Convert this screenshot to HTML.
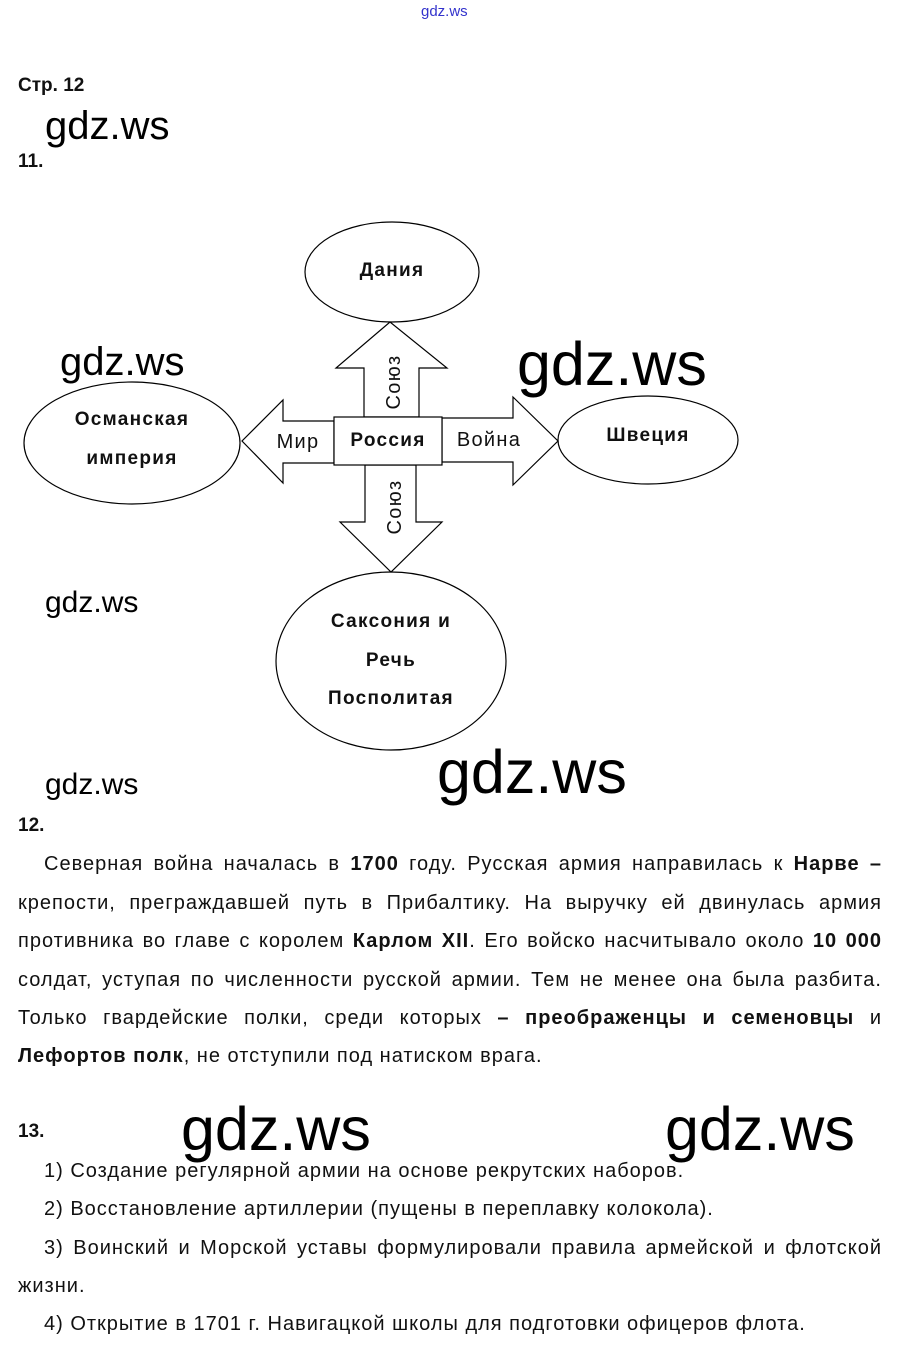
<!DOCTYPE html>
<html><head><meta charset="utf-8"><style>
body{margin:0;width:897px;height:1356px;background:#fff;position:relative;font-family:"Liberation Sans",Arial,sans-serif;color:#111;overflow:hidden}
.a{position:absolute;white-space:nowrap}
.w{position:absolute;white-space:nowrap;color:#000;line-height:1}
.j{position:absolute;left:18px;width:864px;font-size:20px;letter-spacing:1px;text-align:justify;text-align-last:justify;white-space:nowrap}
.l{position:absolute;left:18px;font-size:20px;letter-spacing:1px;white-space:nowrap}
b{font-weight:bold}
</style></head><body>
<div class="a" style="left:421px;top:3px;font-size:15px;color:#33c">gdz.ws</div>
<div class="a" style="left:18px;top:75px;font-size:19px;font-weight:bold">Стр. 12</div>
<div class="w" style="left:45px;top:106px;font-size:40px">gdz.ws</div>
<div class="a" style="left:18px;top:151px;font-size:19px;font-weight:bold">11.</div>

<svg class="a" style="left:0;top:0" width="897" height="800">
<g fill="#fff" stroke="#000" stroke-width="1.2">
<ellipse cx="392" cy="272" rx="87" ry="50"/>
<ellipse cx="132" cy="443" rx="108" ry="61"/>
<ellipse cx="648" cy="440" rx="90" ry="44"/>
<ellipse cx="391" cy="661" rx="115" ry="89"/>
<polygon points="364,417 364,368 336,368 390,322 447,368 419,368 419,417"/>
<polygon points="334,421 283,421 283,400 242,441 283,483 283,463 334,463"/>
<polygon points="442,418 513,418 513,397 558,441 513,485 513,462 442,462"/>
<polygon points="365,465 365,522 340,522 391,572 442,522 416,522 416,465"/>
<rect x="334" y="417" width="108" height="48"/>
</g>
<g font-family="Liberation Sans,Arial,sans-serif" font-size="19" fill="#111" text-anchor="middle" letter-spacing="1.3">
<text x="392" y="276" font-weight="bold">Дания</text>
<text x="132" y="425" font-weight="bold">Османская</text>
<text x="132" y="464" font-weight="bold">империя</text>
<text x="648" y="441" font-weight="bold">Швеция</text>
<text x="391" y="627" font-weight="bold">Саксония и</text>
<text x="391" y="666" font-weight="bold">Речь</text>
<text x="391" y="704" font-weight="bold">Посполитая</text>
<text x="388" y="446" font-weight="bold">Россия</text>
<text x="298" y="448" font-size="20">Мир</text>
<text x="489" y="446" font-size="20">Война</text>
<text transform="translate(400,382) rotate(-90)" font-size="20">Союз</text>
<text transform="translate(401,507) rotate(-90)" font-size="20">Союз</text>
</g>
</svg>

<div class="w" style="left:60px;top:342px;font-size:40px">gdz.ws</div>
<div class="w" style="left:517px;top:334px;font-size:61px">gdz.ws</div>
<div class="w" style="left:45px;top:588px;font-size:30px">gdz.ws</div>
<div class="w" style="left:45px;top:770px;font-size:30px">gdz.ws</div>
<div class="w" style="left:437px;top:742px;font-size:61px">gdz.ws</div>

<div class="a" style="left:18px;top:815px;font-size:19px;font-weight:bold">12.</div>
<div class="j" style="left:44px;width:838px;top:853px">Северная война началась в <b>1700</b> году. Русская армия направилась к <b>Нарве –</b></div>
<div class="j" style="top:892px">крепости, преграждавшей путь в Прибалтику. На выручку ей двинулась армия</div>
<div class="j" style="top:930px">противника во главе с королем <b>Карлом XII</b>. Его войско насчитывало около <b>10 000</b></div>
<div class="j" style="top:969px">солдат, уступая по численности русской армии. Тем не менее она была разбита.</div>
<div class="j" style="top:1007px">Только гвардейские полки, среди которых <b>– преображенцы и семеновцы</b> и</div>
<div class="l" style="top:1045px"><b>Лефортов полк</b>, не отступили под натиском врага.</div>

<div class="a" style="left:18px;top:1121px;font-size:19px;font-weight:bold">13.</div>
<div class="w" style="left:181px;top:1099px;font-size:61px">gdz.ws</div>
<div class="w" style="left:665px;top:1099px;font-size:61px">gdz.ws</div>
<div class="l" style="left:44px;top:1160px">1) Создание регулярной армии на основе рекрутских наборов.</div>
<div class="l" style="left:44px;top:1198px">2) Восстановление артиллерии (пущены в переплавку колокола).</div>
<div class="j" style="left:44px;width:838px;top:1237px">3) Воинский и Морской уставы формулировали правила армейской и флотской</div>
<div class="l" style="top:1275px">жизни.</div>
<div class="l" style="left:44px;top:1313px">4) Открытие в 1701 г. Навигацкой школы для подготовки офицеров флота.</div>
</body></html>
